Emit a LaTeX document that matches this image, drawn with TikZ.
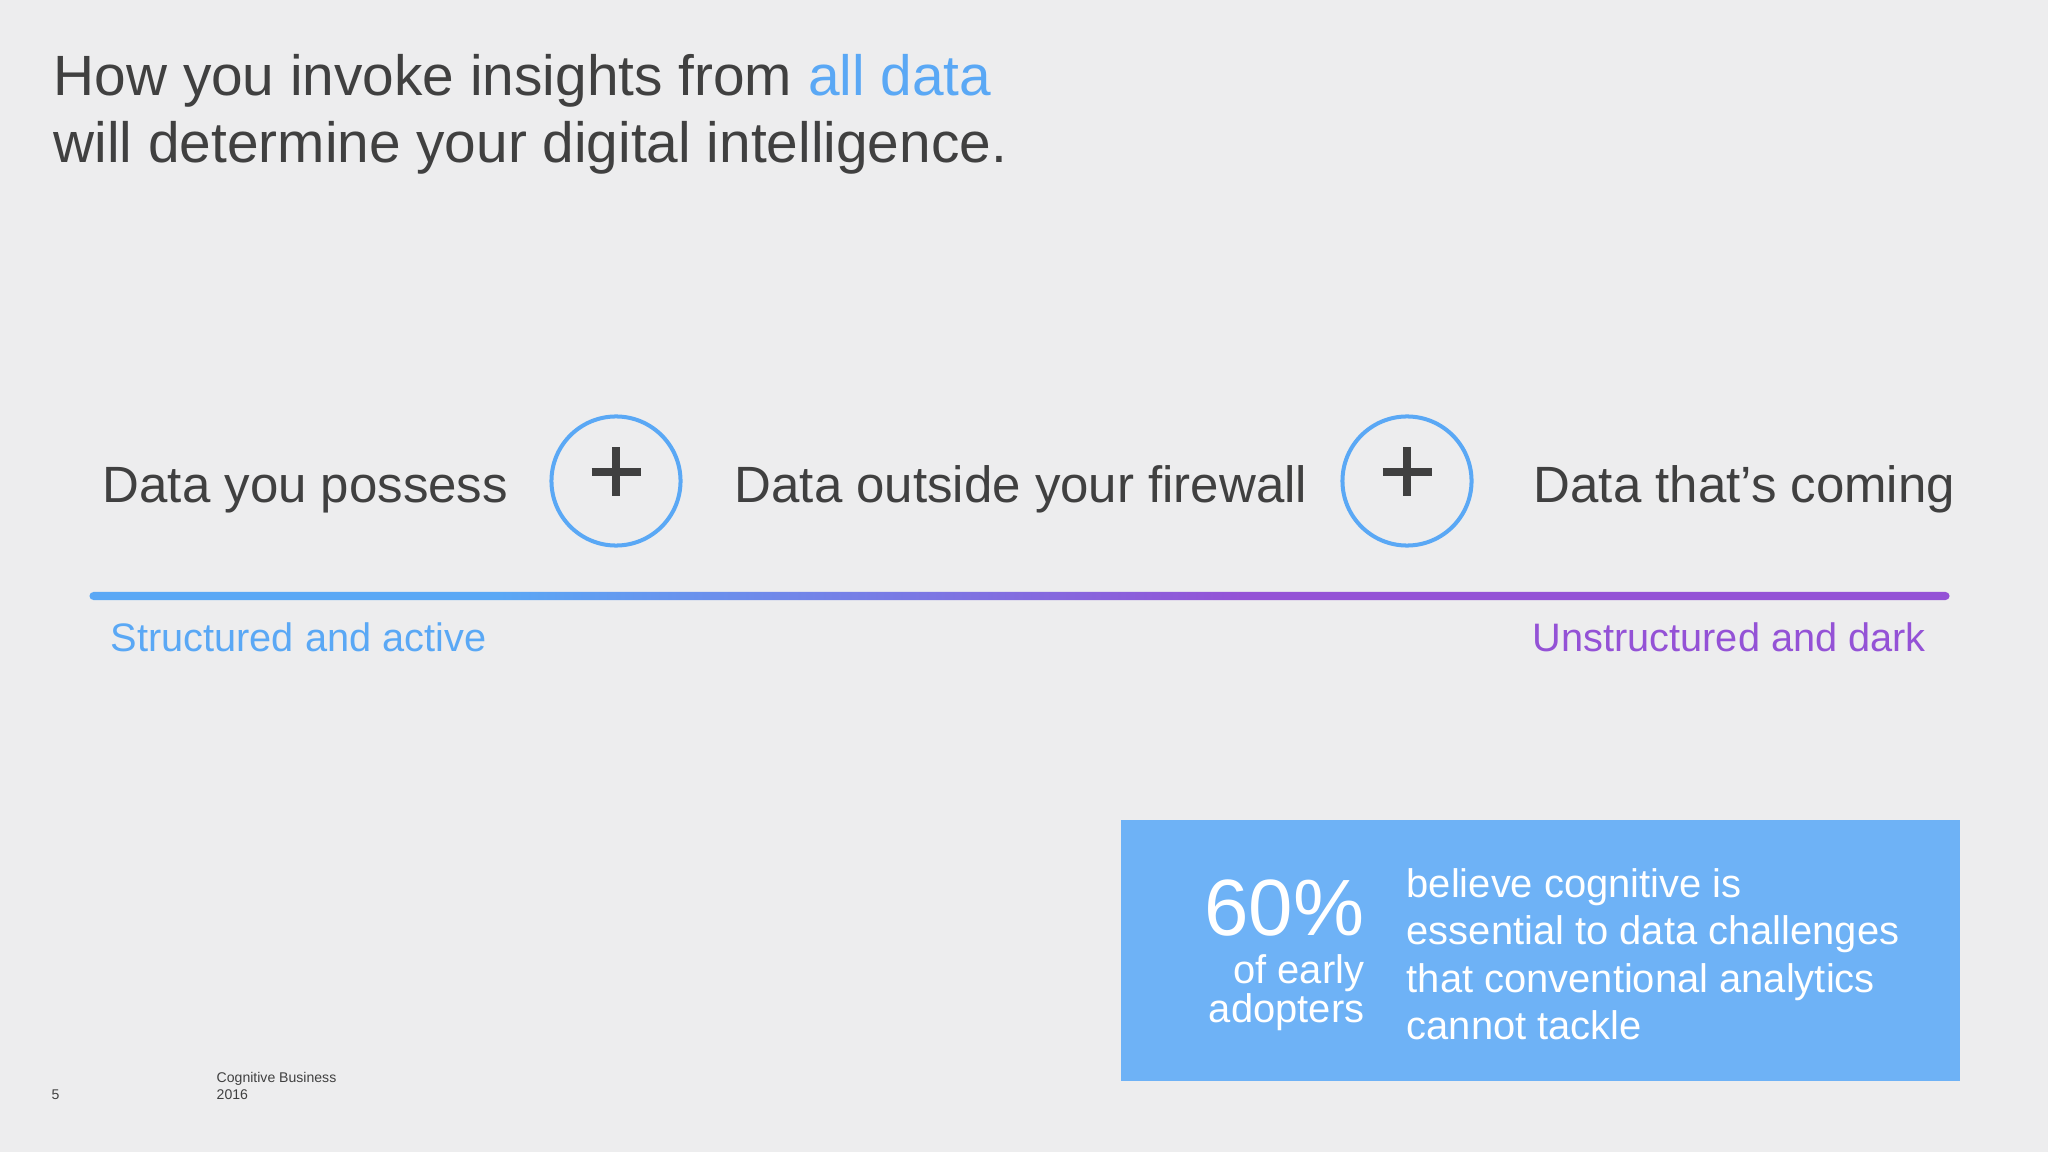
\documentclass[tikz,border=0pt]{standalone}
\usepackage{fontspec}
\setmainfont{Liberation Sans}
\usepackage{xcolor}
\usetikzlibrary{positioning,calc}
\definecolor{slidebg}{HTML}{EDEDEE}
\definecolor{txtgray}{HTML}{404040}
\definecolor{ibmblue}{HTML}{5AA8F5}
\definecolor{ibmpurple}{HTML}{9452D6}
\definecolor{boxblue}{HTML}{6EB2F6}
\pgfdeclarehorizontalshading{bluepurple}{100bp}{color(0bp)=(ibmblue); color(36bp)=(ibmblue); color(56bp)=(ibmpurple); color(100bp)=(ibmpurple)}
\tikzstyle{titletext}=[anchor=base west, inner sep=0pt, text=txtgray, font=\fontsize{16.15}{19}\selectfont]
\tikzstyle{datalabel}=[anchor=base west, inner sep=0pt, text=txtgray, font=\fontsize{14.5}{17}\selectfont]
\tikzstyle{sublabel}=[anchor=base west, inner sep=0pt, font=\fontsize{11.3}{13}\selectfont]
\tikzstyle{pluscircle}=[circle, draw=ibmblue, line width=1.14pt, minimum size=1.29cm, inner sep=0pt]
\tikzstyle{plusbar}=[draw=txtgray, line width=2.28pt]
\tikzstyle{gradbar}=[rectangle, rounded corners=0.04cm, minimum width=18.59cm, minimum height=0.08cm, inner sep=0pt, shading=bluepurple]
\tikzstyle{statbox}=[rectangle, fill=boxblue, minimum width=8.39cm, minimum height=2.61cm, inner sep=0pt]
\tikzstyle{stattext}=[inner sep=0pt, text=white, font=\fontsize{11.35}{13}\selectfont]
\tikzstyle{foot}=[anchor=base west, inner sep=0pt, text=txtgray, font=\fontsize{4}{5}\selectfont]

\begin{document}
\begin{tikzpicture}[x=0.01cm, y=-0.01cm]
\fill[slidebg] (0,0) rectangle (2048,1152);
\useasboundingbox (0,0) rectangle (2048,1152);

\node [titletext] (title1) at (53,96) {How you invoke insights from \textcolor{ibmblue}{all data}};
\node [titletext, below=0.66cm of title1.base west, anchor=base west] (title2) {will determine your digital intelligence.};

\node [datalabel] (possess) at (102,503) {Data you possess};
\node [pluscircle] (c1) at (616,481) {};
\node [datalabel] (firewall) at (734,503) {Data outside your firewall};
\node [pluscircle] (c2) at (1407,481) {};
\node [datalabel] (coming) at (1533,503) {Data that’s coming};

\draw[plusbar] ($(c1)+(-24.5,-9)$) -- ($(c1)+(24.5,-9)$);
\draw[plusbar] ($(c1)+(0,-33.5)$) -- ($(c1)+(0,15.5)$);
\draw[plusbar] ($(c2)+(-24.5,-9)$) -- ($(c2)+(24.5,-9)$);
\draw[plusbar] ($(c2)+(0,-33.5)$) -- ($(c2)+(0,15.5)$);

\node [gradbar] (bar) at (1019.5,596) {};
\node [sublabel, text=ibmblue] (structured) at (110,652) {Structured and active};
\node [sublabel, text=ibmpurple] (unstructured) at (1532,652) {Unstructured and dark};

\node [statbox] (stat) at (1540.5,950.5) {};
\node [stattext, anchor=base east, font=\fontsize{22.7}{26}\selectfont] (pct) at (1365,935) {60\%};
\node [stattext, below=0.48cm of pct.base east, anchor=base east] (early) {of early};
\node [stattext, below=0.39cm of early.base east, anchor=base east] (adopters) {adopters};
\node [stattext, anchor=base west] (line1) at (1406,897) {believe cognitive is};
\node [stattext, below=0.475cm of line1.base west, anchor=base west] (line2) {essential to data challenges};
\node [stattext, below=0.475cm of line2.base west, anchor=base west] (line3) {that conventional analytics};
\node [stattext, below=0.475cm of line3.base west, anchor=base west] (line4) {cannot tackle};

\node [foot] (page) at (51,1099) {5};
\node [foot] (brand) at (216,1082) {Cognitive Business};
\node [foot, below=0.17cm of brand.base west, anchor=base west] (year) {2016};
\end{tikzpicture}
\end{document}
